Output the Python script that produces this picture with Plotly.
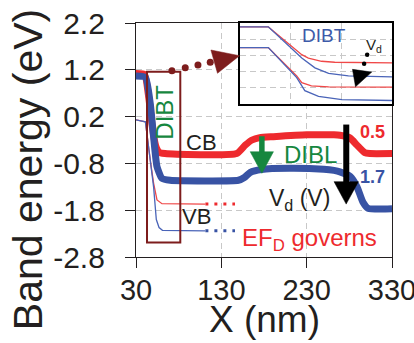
import plotly.graph_objects as go

# ---- band edges along the channel (x in nm, energy in eV) ----
# conduction band, Vd = 0.5 V
x_cb_lo = [30, 40, 45, 49, 53, 57, 64, 148, 158, 166, 175, 191, 230, 262, 269, 281, 289, 298, 304, 330]
e_cb_lo = [1.12, 1.10, 0.60, 0.00, -0.42, -0.56, -0.59, -0.59, -0.41, -0.30, -0.25, -0.23, -0.19, -0.19,
           -0.20, -0.26, -0.41, -0.57, -0.59, -0.59]
# conduction band, Vd = 1.7 V
x_cb_hi = [30, 41, 46.7, 50.6, 54.6, 60.4, 70, 150, 157, 164, 177, 210, 250, 262, 269, 281, 289, 296, 302, 330]
e_cb_hi = [1.07, 1.04, 0.48, -0.23, -0.87, -1.12, -1.16, -1.16, -1.10, -0.99, -0.93, -0.905, -0.925, -0.95,
           -0.98, -1.08, -1.30, -1.63, -1.76, -1.77]
# valence band, Vd = 0.5 V
x_vb_lo = [30, 41, 46.7, 50.6, 54.6, 60.4, 111]
e_vb_lo = [0.13, 0.09, -0.73, -1.22, -1.58, -1.66, -1.67]
# valence band, Vd = 1.7 V
x_vb_hi = [30, 41, 46.7, 50.6, 53.8, 57, 61, 111]
e_vb_hi = [0.13, 0.09, -0.73, -1.30, -2.00, -2.17, -2.23, -2.24]
# dotted continuation of the valence bands (drain Fermi level)
x_ef = [111.3, 146]

# ---- zoomed view of the tunnelling region (arbitrary units) ----
xi_up_lo = [0, 0.56, 1.22, 1.35, 1.61, 1.87, 3]
yi_up_lo = [4.76, 4.76, 3.04, 2.83, 2.63, 2.57, 2.53]
xi_up_hi = [0, 0.56, 1.22, 1.48, 1.75, 2.14, 3]
yi_up_hi = [4.76, 4.76, 2.83, 2.22, 1.88, 1.72, 1.66]
xi_dn_lo = [0, 0.56, 1.12, 1.22, 1.41, 1.75, 3]
yi_dn_lo = [3.48, 3.48, 1.72, 1.31, 1.11, 1.05, 1.03]
xi_dn_hi = [0, 0.56, 1.12, 1.28, 1.55, 2.01, 3]
yi_dn_hi = [3.48, 3.48, 1.62, 0.81, 0.46, 0.26, 0.20]

# ---- axis ticks ----
x_ticks = [30, 130, 230, 330]
y_ticks = [2.2, 1.2, 0.2, -0.8, -1.8, -2.8]
y_ticktext = ["2.2", "1.2", "0.2", "-0.8", "-1.8", "-2.8"]

RED = "#ee2a2e"
BLUE = "#3853a4"
RED_THIN = "#f04848"
BLUE_THIN = "#4a64b8"
GREEN = "#16873f"
MAROON = "#7d1c1c"
INK = "#231f20"
FONT = "Liberation Sans, Arial, sans-serif"

fig = go.Figure()

# thin valence-band curves
fig.add_trace(go.Scatter(x=x_vb_lo, y=e_vb_lo, mode="lines",
                         line=dict(color=RED_THIN, width=1.3), hoverinfo="skip"))
fig.add_trace(go.Scatter(x=x_vb_hi, y=e_vb_hi, mode="lines",
                         line=dict(color=BLUE_THIN, width=1.3), hoverinfo="skip"))
fig.add_trace(go.Scatter(x=x_ef, y=[e_vb_lo[-1]] * 2, mode="lines",
                         line=dict(color=RED, width=3, dash="3px,6px"), hoverinfo="skip"))
fig.add_trace(go.Scatter(x=x_ef, y=[e_vb_hi[-1]] * 2, mode="lines",
                         line=dict(color=BLUE, width=3, dash="3px,6px"), hoverinfo="skip"))

# thick conduction-band curves
fig.add_trace(go.Scatter(x=x_cb_lo, y=e_cb_lo, mode="lines", line_shape="spline",
                         line=dict(color=RED, width=7, smoothing=0.5), hoverinfo="skip"))
fig.add_trace(go.Scatter(x=x_cb_hi, y=e_cb_hi, mode="lines", line_shape="spline",
                         line=dict(color=BLUE, width=7, smoothing=0.5), hoverinfo="skip"))

# dotted pointer from the DIBT box to the zoomed panel
fig.add_trace(go.Scatter(x=[72.1, 87.7, 102.6, 117.0], y=[1.181, 1.245, 1.303, 1.36],
                         mode="markers", marker=dict(color=MAROON, size=7),
                         cliponaxis=False, hoverinfo="skip"))

# inset curves
for xs, ys, c in [(xi_up_lo, yi_up_lo, RED_THIN), (xi_up_hi, yi_up_hi, BLUE_THIN),
                  (xi_dn_lo, yi_dn_lo, RED_THIN), (xi_dn_hi, yi_dn_hi, BLUE_THIN)]:
    fig.add_trace(go.Scatter(x=xs, y=ys, mode="lines", xaxis="x2", yaxis="y2",
                             line=dict(color=c, width=1.3), hoverinfo="skip"))
fig.add_trace(go.Scatter(x=[2.51, 2.45], y=[3.04, 2.47], mode="markers", xaxis="x2", yaxis="y2",
                         marker=dict(color="black", size=4.5), hoverinfo="skip"))

shapes = [
    # DIBT region box
    dict(type="rect", xref="x", yref="y", x0=42.9, x1=81.9, y0=-2.49, y1=1.16,
         line=dict(color=MAROON, width=2)),
    # pointer arrowhead
    dict(type="path", xref="x", yref="y",
         path="M117.8,1.623 L151.3,1.501 L125.5,1.125 Z",
         fillcolor=MAROON, line=dict(color=MAROON, width=0.5)),
    # DIBL arrow
    dict(type="line", xref="x", yref="y", x0=177.5, x1=177.5, y0=-0.22, y1=-0.60,
         line=dict(color=GREEN, width=5.5)),
    dict(type="path", xref="x", yref="y",
         path="M163.8,-0.55 L191.1,-0.55 L177.5,-1.012 Z",
         fillcolor=GREEN, line=dict(color=GREEN, width=0.5)),
    # Vd arrow
    dict(type="line", xref="x", yref="y", x0=276.4, x1=276.4, y0=0.03, y1=-1.25,
         line=dict(color="black", width=6)),
    dict(type="path", xref="x", yref="y",
         path="M262.1,-1.19 L290.6,-1.19 L276.3,-1.67 Z",
         fillcolor="black", line=dict(color="black", width=0.5)),
    # Vd arrowhead in the inset
    dict(type="path", xref="x2", yref="y2",
         path="M2.22,2.13 L2.60,1.96 L2.28,1.05 Z",
         fillcolor="black", line=dict(color="black", width=0.5)),
]

def txt(x, y, s, size, color=INK, xref="x", yref="y", angle=0, bold=False):
    if bold:
        s = "<b>" + s + "</b>"
    return dict(x=x, y=y, xref=xref, yref=yref, text=s, showarrow=False,
                xanchor="center", yanchor="middle", textangle=angle,
                font=dict(family=FONT, size=size, color=color))

annotations = [
    txt(63.1, 0.29, "DIBT", 24, GREEN, angle=-90),
    txt(106.4, -0.35, "CB", 22),
    txt(100.4, -1.94, "VB", 22),
    txt(234, -0.62, "DIBL", 24, GREEN),
    txt(307, -0.13, "0.5", 18, RED, bold=True),
    txt(307, -1.10, "1.7", 18, BLUE, bold=True),
    txt(222, -1.58, "V<sub>d</sub> (V)", 23),
    txt(233, -2.43, "EF<sub>D</sub> governs", 24, RED),
    txt(1.664, 4.25, "DIBT", 19, "#3d5aa9", xref="x2", yref="y2"),
    txt(2.64, 3.58, "V<sub>d</sub>", 15, INK, xref="x2", yref="y2"),
    # axis titles
    txt(-0.421, 0.372, "Band energy (eV)", 41, INK, xref="paper", yref="paper", angle=-90),
    txt(0.503, -0.268, "X (nm)", 37, INK, xref="paper", yref="paper"),
]

axis_common = dict(showline=True, linecolor=INK, linewidth=1.3, mirror=True,
                   ticks="outside", ticklen=10, tickwidth=1.3, tickcolor=INK,
                   showgrid=True, gridcolor="#c8c8c8", gridwidth=1, griddash="6px,4px",
                   zeroline=False, ticklabeloverflow="allow", automargin=False)

inset_common = dict(showline=True, linecolor="black", linewidth=2, mirror=True,
                    ticks="", showticklabels=False, showgrid=True, gridcolor="#c8c8c8",
                    gridwidth=1, griddash="6px,4px", zeroline=False, dtick=1,
                    automargin=False)

fig.update_layout(
    width=414, height=343,
    margin=dict(l=136, r=22, t=23, b=86, autoexpand=False),
    paper_bgcolor="white", plot_bgcolor="white",
    showlegend=False,
    font=dict(family=FONT, color=INK),
    xaxis=dict(range=[30, 330], tickvals=x_ticks, ticklabelstandoff=-3, domain=[0, 1],
               tickfont=dict(family=FONT, size=29, color=INK), **axis_common),
    yaxis=dict(range=[-2.8, 2.2], tickvals=y_ticks, ticktext=y_ticktext,
               ticklabelstandoff=14, domain=[0, 1],
               tickfont=dict(family=FONT, size=30, color=INK), **axis_common),
    xaxis2=dict(range=[0, 3], domain=[0.406, 1], anchor="y2", **inset_common),
    yaxis2=dict(range=[0, 5], domain=[0.655, 1], anchor="x2", **inset_common),
    shapes=shapes,
    annotations=annotations,
)

fig.write_html("out.html")
